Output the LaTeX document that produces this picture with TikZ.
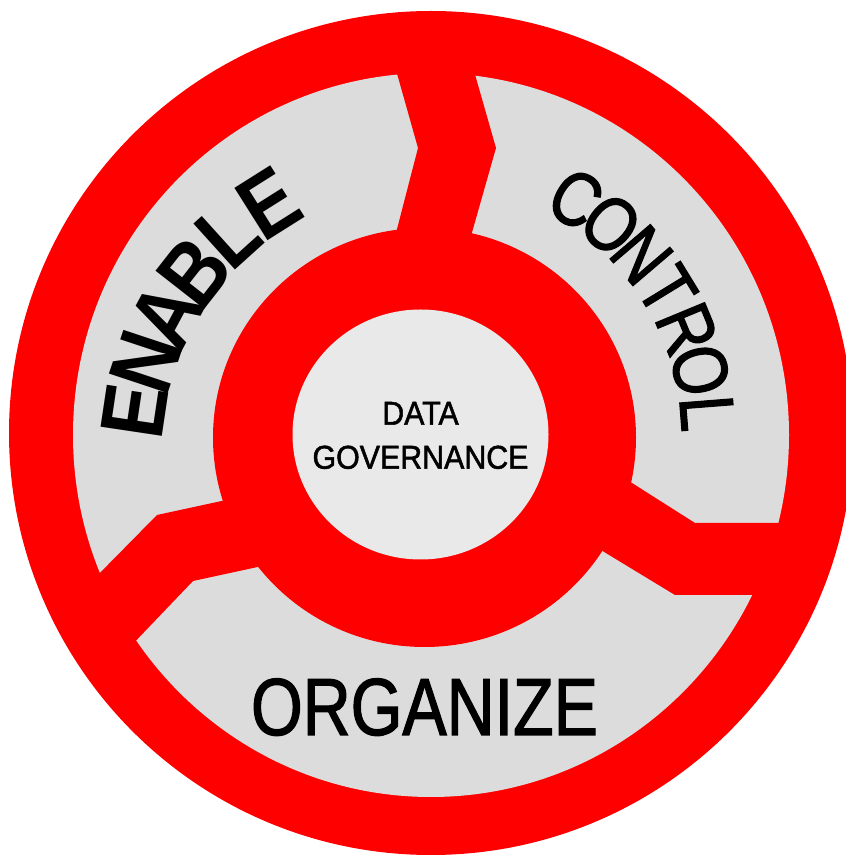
\documentclass[tikz,border=0pt]{standalone}
\usepackage{fontspec}
\setmainfont{Liberation Sans}
\newfontfamily\narrowsans[FakeStretch=0.82,FakeBold=1.5]{Liberation Sans}
\newfontfamily\widesans[FakeStretch=0.87]{Liberation Sans}
\newfontfamily\coresans[FakeStretch=0.92,FakeBold=1.5]{Liberation Sans}

\definecolor{ringgrey}{RGB}{220,220,220}
\definecolor{hubgrey}{RGB}{233,233,233}

\tikzset{
    spoke/.style={fill=red},
    arcletter/.style={inner sep=0pt, anchor=center},
    enablefont/.style={font=\widesans\bfseries\fontsize{90}{100}\selectfont},
    controlfont/.style={font=\narrowsans\fontsize{77}{90}\selectfont},
}

\begin{document}
\begin{tikzpicture}[x=1pt,y=1pt]
        \useasboundingbox (0,0) rectangle (846,857);

        \fill[red] (431,424) circle (422);
        \fill[ringgrey] (431,422) ellipse (358 and 362);
        \fill[red] (424.5,419.5) ellipse (211.5 and 209.5);

        \fill[spoke] (396,787) -- (418,709) -- (396,624) -- (471,621) -- (496,709) -- (474,786) -- cycle;
        \fill[spoke] (240,360) -- (157,342) -- (92,276) -- (128,208) -- (193,276) -- (276,294) -- cycle;
        \fill[spoke] (621,381) -- (695,334) -- (800,334) -- (800,262) -- (675,262) -- (591,313) -- cycle;

        \fill[hubgrey] (420.5,422.5) ellipse (128 and 125);

        \node[inner sep=0pt, align=center, font=\coresans\fontsize{33}{44}\selectfont] (core) at (420.5,421.5) {DATA\\GOVERNANCE};

        \node[inner sep=0pt, anchor=base, font=\narrowsans\fontsize{81}{90}\selectfont] (organize) at (424.5,122) {ORGANIZE};

        \foreach \ch [count=\i] in {E,N,A,B,L,E} {
            \pgfmathsetmacro\ang{171.5-9.85*(\i-1)}
            \pgfmathsetmacro\rot{\ang-90}
            \node[arcletter, enablefont, rotate=\rot] (enable-\i) at ([shift={(428,402)}]\ang:297) {\ch};
        }

        \foreach \ch [count=\i] in {C,O,N,T,R,O,L} {
            \pgfmathsetmacro\ang{58.5-9*(\i-1)}
            \pgfmathsetmacro\rot{\ang-90}
            \node[arcletter, controlfont, rotate=\rot] (control-\i) at ([shift={(431,422)}]\ang:277) {\ch};
        }

    \end{tikzpicture}
\end{document}
